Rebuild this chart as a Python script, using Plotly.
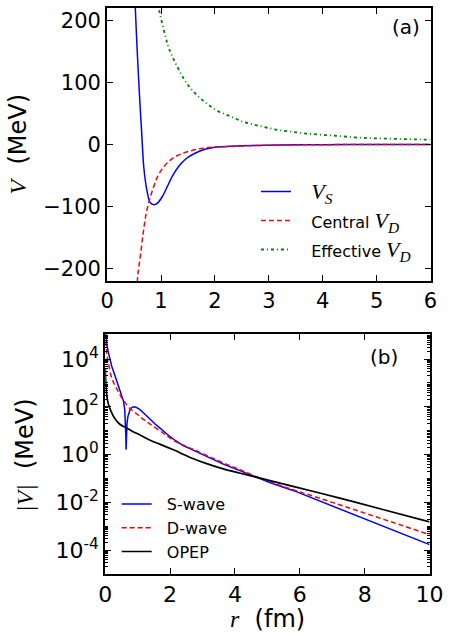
import plotly.graph_objects as go

# ---------------- Panel (a) data ----------------
r_vs = [0.50, 0.52, 0.55, 0.58, 0.61, 0.64, 0.68, 0.74, 0.80, 0.87, 0.94, 1.03, 1.12, 1.21,
        1.33, 1.47, 1.62, 1.80, 2.0, 2.3, 2.7, 3.2, 4.0, 5.0, 6.0]
v_s = [265, 225, 165, 112, 64, 20, -37, -75, -94, -97, -94, -83, -67, -51,
       -35, -22.6, -14.5, -8, -4.3, -3, -1.6, -0.8, -0.25, -0.07, -0.02]

r_vdc = [0.55, 0.57, 0.62, 0.67, 0.72, 0.78, 0.855, 0.94, 1.06, 1.21, 1.39, 1.59, 1.80, 2.0,
         2.3, 2.7, 3.2, 4.0, 5.0, 6.0]
v_dc = [-235, -210, -177, -142, -113, -91, -70, -51, -35, -22.6, -14.5, -9.2, -5.4, -4.0,
        -3.2, -1.8, -0.9, -0.28, -0.08, -0.03]

r_vde = [0.93, 0.96, 1.08, 1.15, 1.37, 1.50, 1.66, 1.85, 2.05, 2.27, 2.51, 2.73, 2.97, 3.2,
         3.44, 3.69, 3.92, 4.16, 4.39, 4.63, 4.88, 5.10, 5.34, 5.57, 5.81, 6.0]
v_de = [232, 218, 175, 154, 114, 96, 80, 66, 54, 46, 37, 32, 27, 23,
        20.4, 17.7, 16, 14.5, 12.9, 11.3, 10.2, 9.7, 9.1, 8.6, 8.1, 7.7]

# ---------------- Panel (b) data (log10 |V| in MeV) ----------------
r_sw = [0.005, 0.02, 0.05, 0.1, 0.2, 0.3, 0.4, 0.5, 0.56, 0.6, 0.62, 0.635, 0.643,
        0.65, 0.67, 0.7, 0.73, 0.77, 0.82, 0.88, 0.95, 1.05, 1.2, 1.38, 1.53, 1.68, 1.82, 1.97,
        2.17, 2.4, 2.66, 3.15, 3.64, 4.13, 4.62, 5.11, 5.79, 6.77, 7.75, 8.74, 10.0]
log_sw = [5.2, 4.9, 4.6, 4.25, 3.7, 3.3, 2.88, 2.5, 2.25, 1.9, 1.45, 0.8, 0.2,
          0.8, 1.3, 1.6, 1.78, 1.9, 1.97, 2.0, 1.98, 1.9, 1.72, 1.47, 1.29, 1.12, 0.95, 0.78,
          0.58, 0.38, 0.22, -0.08, -0.4, -0.66, -0.93, -1.19, -1.5, -2.03, -2.56, -3.09, -3.77]

r_dw = [0.005, 0.03, 0.07, 0.1, 0.2, 0.3, 0.4, 0.5, 0.6, 0.75, 0.9, 1.05, 1.2, 1.38, 1.68,
        1.97, 2.2, 2.66, 3.15, 3.64, 4.13, 4.62, 5.2, 6.0, 7.0, 8.0, 9.0, 10.0]
log_dw = [5.1, 4.4, 4.0, 3.8, 3.2, 2.9, 2.65, 2.4, 2.2, 1.95, 1.78, 1.62, 1.45, 1.28, 1.0,
          0.72, 0.52, 0.25, -0.05, -0.35, -0.62, -0.9, -1.2, -1.56, -2.0, -2.45, -2.9, -3.35]

r_op = [0.003, 0.02, 0.05, 0.1, 0.2, 0.3, 0.45, 0.64, 0.83, 1.1, 1.42, 1.68, 2.1, 2.66,
        3.15, 3.64, 4.13, 4.62, 5.11, 5.79, 7.17, 8.5, 10.0]
log_op = [3.6, 2.9, 2.45, 2.1, 1.75, 1.5, 1.27, 1.12, 0.98, 0.8, 0.58, 0.44, 0.2, -0.14,
          -0.39, -0.6, -0.77, -0.93, -1.1, -1.33, -1.8, -2.28, -2.82]

ya_ticks = [-200, -100, 0, 100, 200]
xa_ticks = [0, 1, 2, 3, 4, 5, 6]
xb_ticks = [0, 2, 4, 6, 8, 10]
yb_exps = [-4, -2, 0, 2, 4]

SERIF = "Liberation Serif"
SANS = "DejaVu Sans"
NB = "\u00a0"


def mi(s, size=None):
    sz = f";font-size:{size}px" if size else ""
    return f"<span style='font-family:{SERIF}{sz}'><i>{s}</i></span>"


def lg(s):
    return f"<span style='font-size:16px'>{NB * 3}{s}</span>"


fig = go.Figure()

fig.add_trace(go.Scatter(x=r_vs, y=v_s, mode="lines", line_shape="spline",
                         line=dict(color="#0000ff", width=1.5, smoothing=0.8),
                         name=lg(mi("V<sub>S</sub>", 22)), legend="legend", xaxis="x", yaxis="y"))
fig.add_trace(go.Scatter(x=r_vdc, y=v_dc, mode="lines", line_shape="spline",
                         line=dict(color="#ff0000", width=1.5, dash="5px,3px"),
                         name=lg("Central " + mi("V<sub>D</sub>", 22)), legend="legend",
                         xaxis="x", yaxis="y"))
fig.add_trace(go.Scatter(x=r_vde, y=v_de, mode="lines", line_shape="spline",
                         line=dict(color="#008000", width=1.8, dash="3px,3px,1px,3px"),
                         name=lg("Effective " + mi("V<sub>D</sub>", 22)), legend="legend",
                         xaxis="x", yaxis="y"))

fig.add_trace(go.Scatter(x=r_sw, y=[10 ** v for v in log_sw], mode="lines",
                         line=dict(color="#0000ff", width=1.5),
                         name=NB * 2 + "S-wave", legend="legend2", xaxis="x2", yaxis="y2"))
fig.add_trace(go.Scatter(x=r_dw, y=[10 ** v for v in log_dw], mode="lines", line_shape="spline",
                         line=dict(color="#ff0000", width=1.5, dash="5px,3px"),
                         name=NB * 2 + "D-wave", legend="legend2", xaxis="x2", yaxis="y2"))
fig.add_trace(go.Scatter(x=r_op, y=[10 ** v for v in log_op], mode="lines", line_shape="spline",
                         line=dict(color="#000000", width=1.7),
                         name=NB * 2 + "OPEP", legend="legend2", xaxis="x2", yaxis="y2"))

W, H = 455, 635
axis_common = dict(showline=True, linecolor="black", linewidth=2, mirror="ticks",
                   ticks="inside", ticklen=6, tickwidth=1, tickcolor="black",
                   showgrid=False, zeroline=False)

fig.update_layout(
    width=W, height=H, margin=dict(l=0, r=0, t=0, b=0),
    paper_bgcolor="white", plot_bgcolor="white",
    font=dict(family=SANS, color="black"),
    xaxis=dict(domain=[105 / W, 444 / W], anchor="y", range=[0, 6], tickvals=xa_ticks,
               tickfont=dict(size=21), **axis_common),
    yaxis=dict(domain=[1 - 281 / H, 1 - 8 / H], anchor="x", range=[-220, 220], tickvals=ya_ticks,
               ticktext=[("\u2212" + str(-v)) if v < 0 else str(v) for v in ya_ticks],
               tickfont=dict(size=21), **axis_common),
    xaxis2=dict(domain=[103 / W, 443 / W], anchor="y2", range=[0, 10], tickvals=xb_ticks,
                tickfont=dict(size=22), **axis_common),
    yaxis2=dict(domain=[1 - 574 / H, 1 - 334 / H], anchor="x2", type="log", range=[-5, 5.05],
                tickvals=[10 ** e for e in yb_exps],
                ticktext=[f"10<sup>{e}</sup>" for e in yb_exps],
                minor=dict(ticks="inside", ticklen=3, tickcolor="black", dtick="D1"),
                tickfont=dict(size=22), **axis_common),
    legend=dict(x=261 / W, y=1 - 172 / H, xanchor="left", yanchor="top",
                bgcolor="rgba(0,0,0,0)", font=dict(size=20), itemwidth=30, tracegroupgap=0),
    legend2=dict(x=115 / W, y=1 - 487 / H, xanchor="left", yanchor="top",
                 bgcolor="rgba(0,0,0,0)", font=dict(size=16), itemwidth=30, tracegroupgap=0),
    showlegend=True,
    annotations=[
        dict(text="(a)", x=418 / W, y=1 - 27 / H, xref="paper", yref="paper", showarrow=False,
             font=dict(size=20), xanchor="center", yanchor="middle"),
        dict(text="(b)", x=395 / W, y=1 - 357 / H, xref="paper", yref="paper", showarrow=False,
             font=dict(size=20), xanchor="center", yanchor="middle"),
        dict(text=mi("V") + NB * 2 + "(MeV)", x=12 / W, y=1 - 144 / H, xref="paper", yref="paper",
             showarrow=False, textangle=-90, font=dict(size=24), xanchor="center", yanchor="middle"),
        dict(text=mi("|V|") + NB * 2 + "(MeV)", x=19 / W, y=1 - 455 / H, xref="paper", yref="paper",
             showarrow=False, textangle=-90, font=dict(size=24), xanchor="center", yanchor="middle"),
        dict(text=mi("r") + NB * 2 + "(fm)", x=273 / W, y=1 - 619 / H, xref="paper", yref="paper",
             showarrow=False, font=dict(size=24), xanchor="center", yanchor="middle"),
    ],
)

fig.write_html("out.html")
